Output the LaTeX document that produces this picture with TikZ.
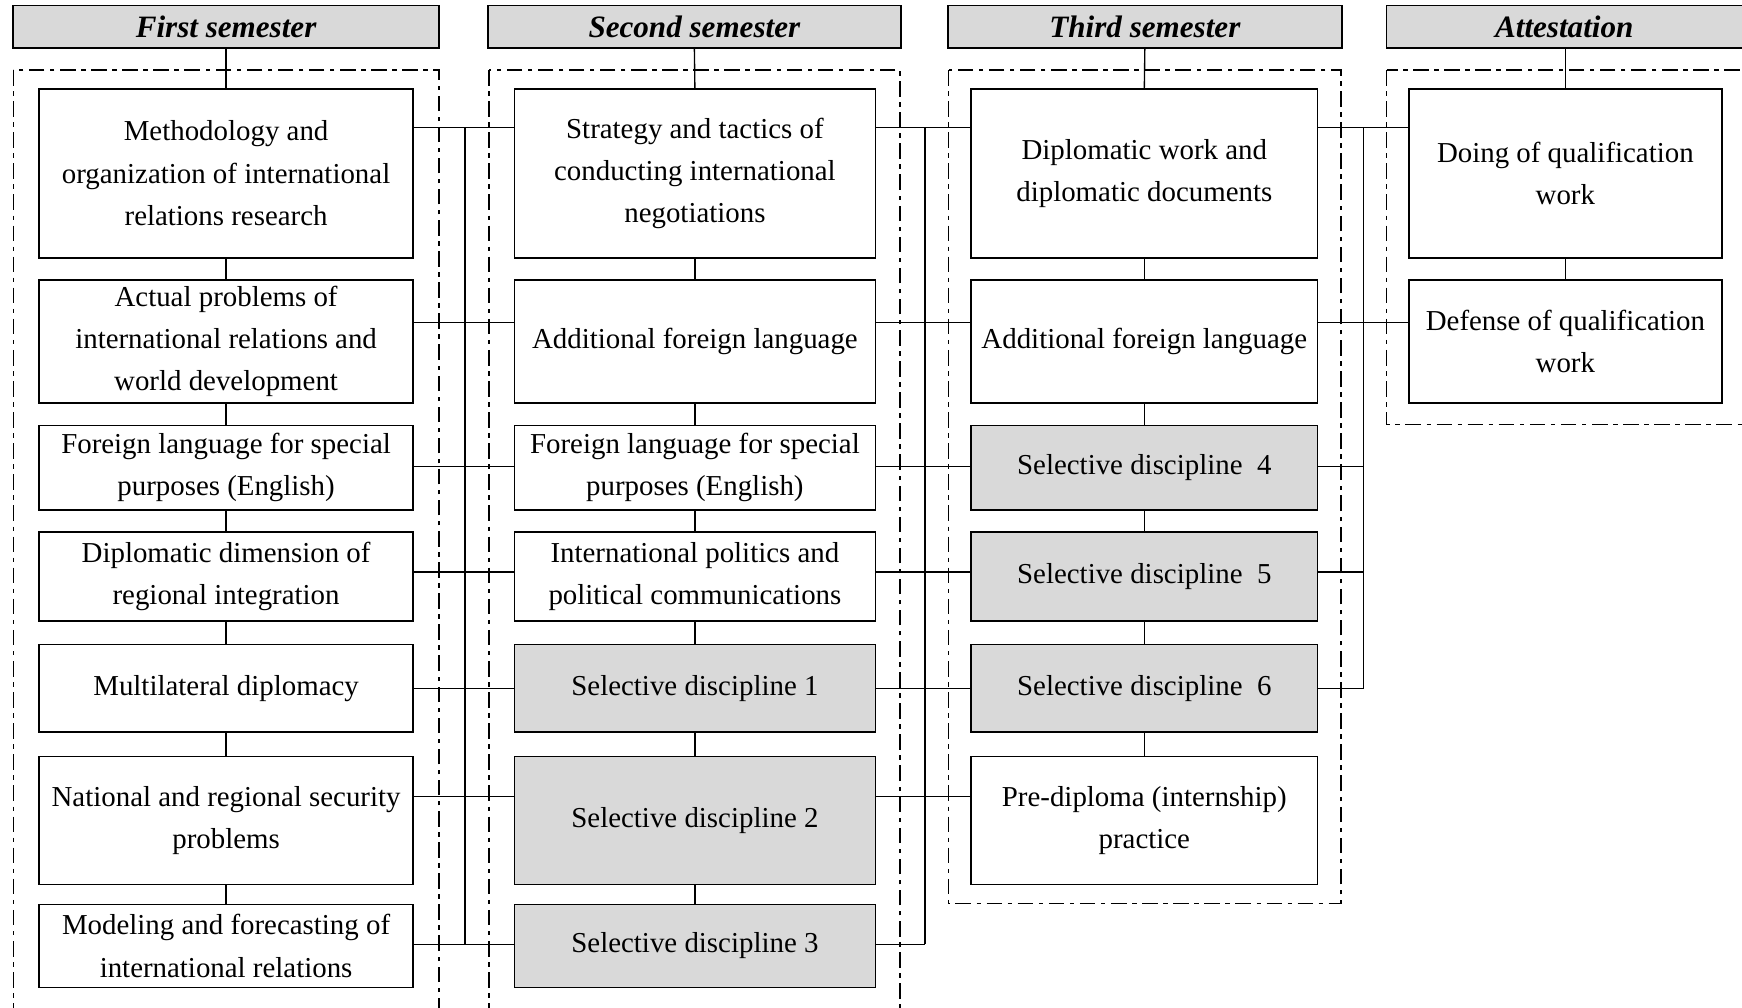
\documentclass[tikz,border=0pt]{standalone}
\usepackage{fontspec}
\setmainfont{Liberation Serif}
\definecolor{selgray}{HTML}{D9D9D9}
\begin{document}
\begin{tikzpicture}[x=1pt,y=-1pt,
  box/.style={draw, line width=1.5pt, fill=white, inner sep=0pt, outer sep=0pt, align=center, font=\fontsize{26}{38}\selectfont},
  sel/.style={box, fill=selgray},
  hdr/.style={draw, line width=1.5pt, fill=selgray, inner sep=0pt, outer sep=0pt, minimum height=38pt, font=\fontsize{28}{30}\selectfont\bfseries\itshape},
  conn/.style={line width=1.2pt},
  dd/.style={line width=1.2pt, dash pattern=on 14pt off 5pt on 4pt off 5pt}]
\useasboundingbox (0,0) rectangle (1568,907);
\clip (0,0) rectangle (1568,907);

% dashed group frames
\draw[dd] (12,63) rectangle (395,940);
\draw[dd] (440,63) rectangle (810,940);
\draw[dd] (854,63) rectangle (1207,813);
\draw[dd] (1248,63) rectangle (1620,382);

% headers
\node[hdr, minimum width=383pt] (h1) at (203.5,24) {First semester};
\node[hdr, minimum width=372pt] (h2) at (625,24) {Second semester};
\node[hdr, minimum width=355pt] (h3) at (1030.5,24) {Third semester};
\node[hdr, minimum width=340pt] (h4) at (1418,24) {\hspace*{-20pt}Attestation};

% row levels and buses
\coordinate (r1) at (0,115);
\coordinate (r2) at (0,290);
\coordinate (r3) at (0,420);
\coordinate (r4) at (0,515);
\coordinate (r5) at (0,620);
\coordinate (r6) at (0,717);
\coordinate (r7) at (0,850);
\coordinate (bus12) at (418.5,0);
\coordinate (bus23) at (832.5,0);
\coordinate (bus34) at (1227,0);

% column 1
\node[box, minimum width=337pt, minimum height=152pt] (b1) at (203.5,156) {Methodology and\\organization of international\\relations research};
\node[box, minimum width=337pt, minimum height=111pt] (b2) at (203.5,307.5) {Actual problems of\\international relations and\\world development};
\node[box, minimum width=337pt, minimum height=76pt] (b3) at (203.5,421) {Foreign language for special\\purposes (English)};
\node[box, minimum width=337pt, minimum height=80pt] (b4) at (203.5,519) {Diplomatic dimension of\\regional integration};
\node[box, minimum width=337pt, minimum height=79pt] (b5) at (203.5,619.5) {Multilateral diplomacy};
\node[box, minimum width=337pt, minimum height=115pt] (b6) at (203.5,738.5) {National and regional security\\problems};
\node[box, minimum width=337pt, minimum height=75pt] (b7) at (203.5,851.5) {Modeling and forecasting of\\international relations};

% column 2
\node[box, minimum width=325pt, minimum height=152pt] (c1) at (625.5,156) {Strategy and tactics of\\conducting international\\negotiations};
\node[box, minimum width=325pt, minimum height=111pt] (c2) at (625.5,307.5) {Additional foreign language};
\node[box, minimum width=325pt, minimum height=76pt] (c3) at (625.5,421) {Foreign language for special\\purposes (English)};
\node[box, minimum width=325pt, minimum height=80pt] (c4) at (625.5,519) {International politics and\\political communications};
\node[sel, minimum width=325pt, minimum height=79pt] (c5) at (625.5,619.5) {Selective discipline 1};
\node[sel, minimum width=325pt, minimum height=115pt] (c6) at (625.5,738.5) {Selective discipline 2};
\node[sel, minimum width=325pt, minimum height=75pt] (c7) at (625.5,851.5) {Selective discipline 3};

% column 3
\node[box, minimum width=312pt, minimum height=152pt] (d1) at (1030,156) {Diplomatic work and\\diplomatic documents};
\node[box, minimum width=312pt, minimum height=111pt] (d2) at (1030,307.5) {Additional foreign language};
\node[sel, minimum width=312pt, minimum height=76pt] (d3) at (1030,421) {Selective discipline\ \ 4};
\node[sel, minimum width=312pt, minimum height=80pt] (d4) at (1030,519) {Selective discipline\ \ 5};
\node[sel, minimum width=312pt, minimum height=79pt] (d5) at (1030,619.5) {Selective discipline\ \ 6};
\node[box, minimum width=312pt, minimum height=115pt] (d6) at (1030,738.5) {Pre-diploma (internship)\\practice};

% column 4
\node[box, minimum width=282pt, minimum height=152pt] (e1) at (1409,156) {Doing of qualification\\work};
\node[box, minimum width=282pt, minimum height=111pt] (e2) at (1409,307.5) {Defense of qualification\\work};

% vertical links inside columns
\draw[conn] (h1.south) -- (b1.north);
\draw[conn] (b1.south) -- (b2.north);
\draw[conn] (b2.south) -- (b3.north);
\draw[conn] (b3.south) -- (b4.north);
\draw[conn] (b4.south) -- (b5.north);
\draw[conn] (b5.south) -- (b6.north);
\draw[conn] (b6.south) -- (b7.north);

\draw[conn] (h2.south) -- (c1.north);
\draw[conn] (c1.south) -- (c2.north);
\draw[conn] (c2.south) -- (c3.north);
\draw[conn] (c3.south) -- (c4.north);
\draw[conn] (c4.south) -- (c5.north);
\draw[conn] (c5.south) -- (c6.north);
\draw[conn] (c6.south) -- (c7.north);

\draw[conn] (h3.south) -- (d1.north);
\draw[conn] (d1.south) -- (d2.north);
\draw[conn] (d2.south) -- (d3.north);
\draw[conn] (d3.south) -- (d4.north);
\draw[conn] (d4.south) -- (d5.north);
\draw[conn] (d5.south) -- (d6.north);

\draw[conn] (e1.north |- h4.south) -- (e1.north);
\draw[conn] (e1.south) -- (e2.north);

% buses
\draw[conn] (bus12 |- r1) -- (bus12 |- r7);
\draw[conn] (bus23 |- r1) -- (bus23 |- r7);
\draw[conn] (bus34 |- r1) -- (bus34 |- r5);

% column 1 -> column 2
\draw[conn] (b1.east |- r1) -- (c1.west |- r1);
\draw[conn] (b2.east |- r2) -- (c2.west |- r2);
\draw[conn] (b3.east |- r3) -- (c3.west |- r3);
\draw[conn] (b4.east |- r4) -- (c4.west |- r4);
\draw[conn] (b5.east |- r5) -- (c5.west |- r5);
\draw[conn] (b6.east |- r6) -- (c6.west |- r6);
\draw[conn] (b7.east |- r7) -- (c7.west |- r7);

% column 2 -> column 3
\draw[conn] (c1.east |- r1) -- (d1.west |- r1);
\draw[conn] (c2.east |- r2) -- (d2.west |- r2);
\draw[conn] (c3.east |- r3) -- (d3.west |- r3);
\draw[conn] (c4.east |- r4) -- (d4.west |- r4);
\draw[conn] (c5.east |- r5) -- (d5.west |- r5);
\draw[conn] (c6.east |- r6) -- (d6.west |- r6);
\draw[conn] (c7.east |- r7) -- (bus23 |- r7);

% column 3 -> column 4
\draw[conn] (d1.east |- r1) -- (e1.west |- r1);
\draw[conn] (d2.east |- r2) -- (e2.west |- r2);
\draw[conn] (d3.east |- r3) -- (bus34 |- r3);
\draw[conn] (d4.east |- r4) -- (bus34 |- r4);
\draw[conn] (d5.east |- r5) -- (bus34 |- r5);
\end{tikzpicture}
\end{document}
